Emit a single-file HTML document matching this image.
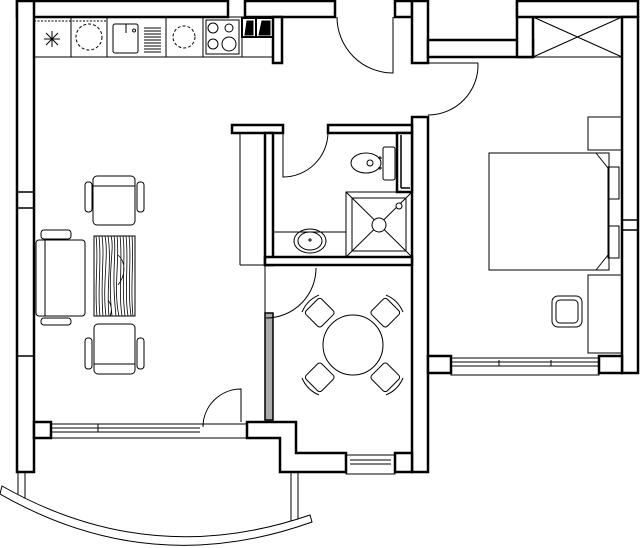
<!DOCTYPE html>
<html><head><meta charset="utf-8"><style>html,body{margin:0;padding:0;background:#fff}svg{display:block}</style></head>
<body>
<svg width="640" height="548" viewBox="0 0 640 548" xmlns="http://www.w3.org/2000/svg">
<g fill="#fff" stroke="#000" stroke-width="2.5">
<rect x="17" y="1" width="211" height="16"/>
<rect x="17" y="1" width="17" height="471"/>
<rect x="245" y="1" width="90" height="16"/>
<rect x="273" y="17" width="9" height="46"/>
<rect x="395" y="1" width="17" height="16"/>
<rect x="412" y="1" width="16" height="62"/>
<rect x="428" y="40" width="105" height="17"/>
<rect x="517" y="1" width="16" height="56"/>
<rect x="517" y="1" width="121" height="16"/>
<rect x="622" y="17" width="16" height="356"/>
<rect x="412" y="117" width="16" height="355"/>
<rect x="428" y="356" width="23" height="17"/>
<rect x="599" y="356" width="23" height="17"/>
<rect x="232" y="125" width="51" height="8"/>
<rect x="328" y="125" width="84" height="8"/>
<rect x="265" y="133" width="8" height="132"/>
<rect x="265" y="257" width="147" height="8"/>
<rect x="397" y="133" width="15" height="59"/>
<rect x="34" y="422" width="17" height="16"/>
<polygon points="247,422 296,422 296,453 346,453 346,472 280,472 280,438 247,438"/>
<rect x="395" y="453" width="17" height="19"/>
</g>
<g fill="none" stroke="#000" stroke-width="1.5">
<line x1="17" y1="192" x2="34" y2="192"/><line x1="17" y1="208" x2="34" y2="208"/>
<line x1="17" y1="356" x2="34" y2="356"/>
<line x1="622" y1="220" x2="638" y2="220"/><line x1="622" y1="230" x2="638" y2="230"/>
<line x1="401" y1="135" x2="401" y2="188"/><line x1="401" y1="188" x2="410" y2="188"/>
</g>
<rect x="265" y="313" width="8" height="107" fill="#aaa" stroke="#000" stroke-width="1.5"/>
<g fill="none" stroke="#000" stroke-width="1">
<rect x="51" y="424" width="196" height="14"/>
<line x1="51" y1="428" x2="200" y2="428"/><line x1="51" y1="432" x2="200" y2="432"/>
<line x1="98" y1="424" x2="98" y2="432"/>
<rect x="451" y="358" width="148" height="17"/>
<line x1="451" y1="362" x2="599" y2="362"/><line x1="451" y1="366" x2="599" y2="366"/>
<line x1="499" y1="360" x2="499" y2="366"/><line x1="551" y1="360" x2="551" y2="366"/>
<rect x="346" y="455" width="49" height="19"/>
<line x1="350" y1="460" x2="391" y2="460"/><line x1="350" y1="464" x2="391" y2="464"/>
<path d="M337,17 A56,56 0 0 0 393,73 L393,17"/>
<path d="M478,63 L428,63 M478,63 A50,50 0 0 1 428,115"/>
<path d="M328,133 A45,45 0 0 1 283,177 L283,133"/>
<path d="M316,268 A50,50 0 0 1 266,318"/>
<path d="M241,422 L241,389 A38,38 0 0 0 203,427"/>
<line x1="240" y1="133" x2="240" y2="265"/><line x1="240" y1="265" x2="265" y2="265"/>
<line x1="265" y1="265" x2="265" y2="313"/>
<rect x="34" y="17" width="239" height="40"/>
<line x1="71" y1="17" x2="71" y2="57"/><line x1="107" y1="17" x2="107" y2="57"/>
<line x1="166" y1="17" x2="166" y2="57"/><line x1="203" y1="17" x2="203" y2="57"/>
<line x1="242" y1="17" x2="242" y2="57"/>
<line x1="34" y1="21" x2="107" y2="21" stroke-dasharray="2,1.5"/>
<path d="M44,39 L60,39 M52,31 L52,47 M46,33 L58,45 M58,33 L46,45"/>
<circle cx="89" cy="37" r="13" stroke-dasharray="3,2"/>
<rect x="113" y="24" width="25" height="29" rx="2"/>
<path d="M126,24 L126,33 M122,24 L130,24 M134,29 a1.5,1.5 0 1 0 0.1,0"/>
<path d="M144,28H161M144,31H161M144,34H161M144,37H161M144,40H161M144,43H161M144,46H161M144,49H161M144,52H161"/>
<circle cx="184" cy="37" r="11" stroke-dasharray="3,2"/>
<rect x="206" y="20" width="33" height="34"/>
<circle cx="213" cy="28" r="5"/><circle cx="229" cy="28" r="4"/>
<circle cx="213" cy="44" r="5"/><circle cx="229" cy="44" r="7"/>
<rect x="242" y="18" width="31" height="19" stroke-width="2"/>
<line x1="256" y1="18" x2="256" y2="37" stroke-width="2"/>
<path d="M245,35 L247,21 L253,21 L253,35Z M259,35 L262,21 L270,21 L270,35Z" fill="#000"/>
<rect x="93" y="176" width="42" height="49" rx="4"/><line x1="93" y1="186" x2="135" y2="186"/>
<rect x="85" y="182" width="7" height="30" rx="3"/><rect x="137" y="182" width="7" height="30" rx="3"/>
<rect x="41" y="230" width="30" height="9" rx="3"/>
<rect x="36" y="240" width="49" height="76" rx="3"/><line x1="45" y1="240" x2="45" y2="316"/>
<rect x="41" y="318" width="30" height="7" rx="3"/>
<rect x="94" y="324" width="41" height="50" rx="4"/><line x1="94" y1="364" x2="135" y2="364"/>
<rect x="85" y="338" width="7" height="31" rx="3"/><rect x="137" y="338" width="7" height="31" rx="3"/>
<rect x="94" y="236" width="41" height="80"/>
<path stroke-width="0.8" d="M96,236 C99,260 94,285 97,316 M99,236 C102,262 97,290 100,316 M102,236 C105,258 100,280 103,316 M105,236 C109,255 102,285 106,316 M108,236 C112,262 106,290 109,316 M111,236 C115,250 107,270 112,316 M114,236 C117,252 111,270 116,316 M117,236 C120,258 113,290 119,316 M120,236 C123,260 118,290 122,316 M123,236 C126,255 121,285 125,316 M126,236 C129,262 124,290 128,316 M129,236 C132,258 127,285 131,316 M132,236 C134,262 130,290 133,316 M118,255 C126,262 126,275 118,285 M108,300 C112,305 112,312 110,316"/>
<circle cx="353" cy="345" r="30"/>
<g transform="translate(319,312) rotate(-45)"><rect x="-11" y="-10" width="22" height="22" rx="3"/><path d="M-12,-12 Q0,-17 12,-12"/></g>
<g transform="translate(386,312) rotate(45)"><rect x="-11" y="-10" width="22" height="22" rx="3"/><path d="M-12,-12 Q0,-17 12,-12"/></g>
<g transform="translate(319,378) rotate(-135)"><rect x="-11" y="-10" width="22" height="22" rx="3"/><path d="M-12,-12 Q0,-17 12,-12"/></g>
<g transform="translate(386,378) rotate(135)"><rect x="-11" y="-10" width="22" height="22" rx="3"/><path d="M-12,-12 Q0,-17 12,-12"/></g>
<rect x="383" y="147" width="12" height="33" rx="2"/>
<ellipse cx="366" cy="163" rx="15" ry="10"/><circle cx="370" cy="163" r="3"/>
<path d="M378,158h4M380,156v4M378,168h4M380,166v4"/>
<rect x="346" y="192" width="66" height="65"/><rect x="352" y="198" width="54" height="53"/>
<path d="M346,192 L412,257 M412,192 L346,257"/>
<circle cx="379" cy="225" r="7" fill="#fff"/><circle cx="399" cy="206" r="3" fill="#fff"/>
<path d="M273,232 H346"/>
<ellipse cx="310" cy="241" rx="16" ry="12"/><ellipse cx="310" cy="241" rx="12" ry="9"/>
<path d="M308,240h4M310,238v4"/>
<rect x="533" y="17" width="89" height="40"/><path d="M533,17 L622,57 M622,17 L533,57"/>
<rect x="588" y="117" width="34" height="33"/>
<rect x="489" y="153" width="120" height="117"/>
<path d="M596,153 L608,168 L608,255 L596,270"/>
<rect x="608" y="167" width="11" height="32"/><rect x="608" y="226" width="11" height="32"/>
<rect x="588" y="275" width="34" height="78"/>
<rect x="552" y="296" width="30" height="31" rx="6"/><rect x="556" y="300" width="22" height="23" rx="4"/>
<path d="M18,472 V500 M25,472 V500 M291,472 V523 M298,472 V523"/>
<path d="M2,486 Q150,570 310,515 L312,522 Q150,580 0,494 Z" fill="#fff"/>
</g>
</svg>
</body></html>
